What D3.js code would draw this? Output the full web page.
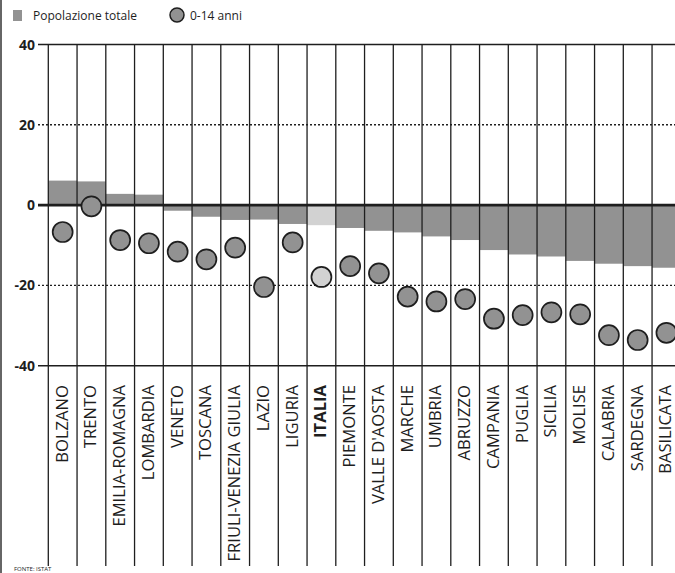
<!DOCTYPE html>
<html>
<head>
<meta charset="utf-8">
<script src="https://cdn.jsdelivr.net/npm/d3@7"></script>
<style>
    body { margin: 0; background: #fff; }
    svg { display: block; font-family: "Open Sans", sans-serif; }
</style>
</head>
<body>
<svg id="canvas" width="675" height="573"></svg>
<script>

// regions, left to right as in the chart
let regions = ["BOLZANO", "TRENTO", "EMILIA-ROMAGNA", "LOMBARDIA", "VENETO", "TOSCANA",
    "FRIULI-VENEZIA GIULIA", "LAZIO", "LIGURIA", "ITALIA", "PIEMONTE", "VALLE D'AOSTA",
    "MARCHE", "UMBRIA", "ABRUZZO", "CAMPANIA", "PUGLIA", "SICILIA", "MOLISE",
    "CALABRIA", "SARDEGNA", "BASILICATA"];

// popolazione totale (bars)
let totale = [6.1, 5.9, 2.8, 2.6, -1.4, -2.9, -3.7, -3.6, -4.7, -5.0, -5.7, -6.4,
    -6.8, -7.8, -8.7, -11.2, -12.3, -12.8, -13.9, -14.6, -15.2, -15.6];

// 0-14 anni (circles)
let giovani = [-6.7, -0.3, -8.7, -9.5, -11.6, -13.5, -10.6, -20.4, -9.3, -17.9, -15.2, -17.0,
    -22.8, -24.0, -23.4, -28.3, -27.4, -26.7, -27.2, -32.4, -33.6, -31.8];

let yTicks = [40, 20, 0, -20, -40];

let svg = d3.select('#canvas');

let x = d3.scaleBand()
    .domain(regions)
    .range([48.3, 48.3 + 28.75 * regions.length])
    .padding(0);

let y = d3.scaleLinear()
    .domain([-40, 40])
    .range([365.7, 44.5]);

const barGrey = '#929292';
const lightGrey = '#d2d2d2';
const ink = '#1e1e1e';

// left frame edge of the scan
svg.append('line')
    .attr('x1', 1).attr('x2', 1)
    .attr('y1', 0).attr('y2', 573)
    .attr('stroke', '#666')
    .attr('stroke-width', 2);

// legend
let legend = svg.append('g').attr('class', 'legend');
legend.append('rect')
    .attr('x', 13).attr('y', 10)
    .attr('width', 9).attr('height', 11)
    .attr('fill', barGrey);
legend.append('text')
    .attr('x', 33).attr('y', 20)
    .attr('font-size', 12)
    .attr('fill', ink)
    .text('Popolazione totale');
legend.append('circle')
    .attr('cx', 177).attr('cy', 15).attr('r', 7)
    .attr('fill', barGrey)
    .attr('stroke', ink)
    .attr('stroke-width', 1.5);
legend.append('text')
    .attr('x', 190).attr('y', 20)
    .attr('font-size', 12)
    .attr('fill', ink)
    .text('0-14 anni');

// bars, from zero to value, filling the whole column
svg.append('g')
    .selectAll('rect')
    .data(regions)
    .join('rect')
    .attr('x', d => x(d))
    .attr('width', x.bandwidth())
    .attr('y', (d, i) => y(Math.max(0, totale[i])))
    .attr('height', (d, i) => Math.abs(y(totale[i]) - y(0)))
    .attr('fill', d => d == 'ITALIA' ? lightGrey : barGrey);

// column separators (left edge of every column)
svg.append('g')
    .selectAll('line')
    .data(regions)
    .join('line')
    .attr('x1', d => x(d)).attr('x2', d => x(d))
    .attr('y1', y(40)).attr('y2', 566)
    .attr('stroke', ink)
    .attr('stroke-width', 1.3);

// horizontal grid + ticks
let grid = svg.append('g');
grid.selectAll('line')
    .data(yTicks)
    .join('line')
    .attr('x1', 38).attr('x2', 675)
    .attr('y1', d => y(d)).attr('y2', d => y(d))
    .attr('stroke', ink)
    .attr('stroke-width', d => d == 0 ? 2.6 : (Math.abs(d) == 20 ? 1.4 : 1.5))
    .attr('stroke-dasharray', d => Math.abs(d) == 20 ? '2,2' : null);

grid.selectAll('text')
    .data(yTicks)
    .join('text')
    .attr('x', 35)
    .attr('y', d => y(d) + 5)
    .attr('text-anchor', 'end')
    .attr('font-size', 14)
    .attr('font-weight', 'bold')
    .attr('fill', ink)
    .text(d => d);

// circles for 0-14 anni
svg.append('g')
    .selectAll('circle')
    .data(regions)
    .join('circle')
    .attr('cx', d => x(d) + x.bandwidth() / 2)
    .attr('cy', (d, i) => y(giovani[i]))
    .attr('r', 10)
    .attr('fill', d => d == 'ITALIA' ? lightGrey : barGrey)
    .attr('stroke', ink)
    .attr('stroke-width', 1.7);

// region labels, rotated
svg.append('g')
    .selectAll('text')
    .data(regions)
    .join('text')
    .attr('transform', d => `translate(${x(d) + x.bandwidth() / 2 + 5},385) rotate(-90)`)
    .attr('text-anchor', 'end')
    .attr('font-size', 16.6)
    .attr('font-weight', d => d == 'ITALIA' ? 'bold' : 'normal')
    .attr('fill', ink)
    .text(d => d);

// source note at the bottom edge
svg.append('text')
    .attr('x', 14).attr('y', 571)
    .attr('font-size', 6)
    .attr('fill', ink)
    .text('FONTE: ISTAT');

</script>
</body>
</html>
